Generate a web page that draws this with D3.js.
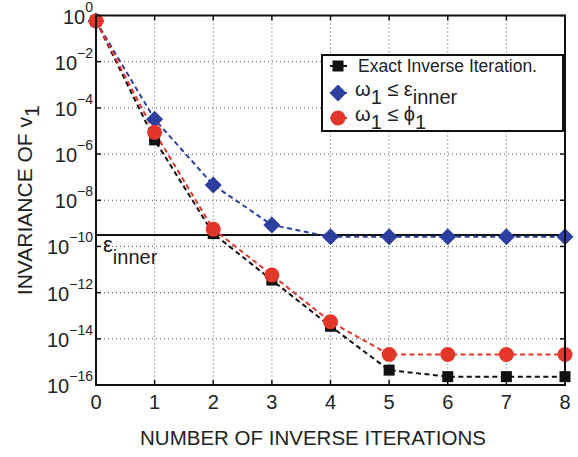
<!DOCTYPE html>
<html>
<head>
<meta charset="utf-8">
<script src="https://cdn.jsdelivr.net/npm/d3@7"></script>
<style>
  body { margin: 0; background: #fff; }
  svg { display: block; font-family: "Liberation Sans", Arial, sans-serif; }
</style>
</head>
<body>
<div id="chart"></div>
<script>
// iterations on the x axis
const iterations = [0, 1, 2, 3, 4, 5, 6, 7, 8];

// invariance values
const exactInverse = [0.59, 4.1e-6, 3.6e-10, 3.5e-12, 3.5e-14, 4.4e-16, 2.3e-16, 2.3e-16, 2.3e-16];
const omegaEps = [0.58, 3.2e-5, 4.6e-8, 8.5e-10, 2.6e-10, 2.6e-10, 2.6e-10, 2.6e-10, 2.6e-10];
const omegaPhi = [0.58, 8.7e-6, 5.6e-10, 5.8e-12, 5.5e-14, 2.1e-15, 2.1e-15, 2.1e-15, 2.1e-15];

const epsInner = 3.1e-10;

const xTicks = [0, 1, 2, 3, 4, 5, 6, 7, 8];
const yTickExp = [0, -2, -4, -6, -8, -10, -12, -14, -16];

const width = 578, height = 457;
const margin = { top: 15.5, right: 13, bottom: 72, left: 96 };

const svg = d3.select("#chart").append("svg")
  .attr("width", width)
  .attr("height", height);

const x = d3.scaleLinear().domain([0, 8]).range([margin.left, width - margin.right]);
const y = d3.scaleLog().domain([1e-16, 1]).range([height - margin.bottom, margin.top]);

const x0 = x.range()[0], x1 = x.range()[1];
const yTop = y.range()[1], yBot = y.range()[0];

// grid (dotted)
const grid = svg.append("g").attr("stroke", "#555").attr("stroke-width", 1).attr("stroke-dasharray", "1,3");
grid.selectAll(".gx").data(xTicks.slice(1, -1)).join("line")
  .attr("x1", d => x(d)).attr("x2", d => x(d))
  .attr("y1", yTop).attr("y2", yBot);
grid.selectAll(".gy").data(yTickExp.slice(1, -1)).join("line")
  .attr("x1", x0).attr("x2", x1)
  .attr("y1", d => y(Math.pow(10, d))).attr("y2", d => y(Math.pow(10, d)));

// epsilon inner line
svg.append("line")
  .attr("x1", x0).attr("x2", x1)
  .attr("y1", y(epsInner)).attr("y2", y(epsInner))
  .attr("stroke", "#111").attr("stroke-width", 2);

// ticks inside the box
const ticks = svg.append("g").attr("stroke", "#111").attr("stroke-width", 1.5);
xTicks.forEach(t => {
  ticks.append("line").attr("x1", x(t)).attr("x2", x(t)).attr("y1", yBot).attr("y2", yBot - 5);
  ticks.append("line").attr("x1", x(t)).attr("x2", x(t)).attr("y1", yTop).attr("y2", yTop + 5);
});
yTickExp.forEach(e => {
  const yy = y(Math.pow(10, e));
  ticks.append("line").attr("x1", x0).attr("x2", x0 + 5).attr("y1", yy).attr("y2", yy);
  ticks.append("line").attr("x1", x1).attr("x2", x1 - 5).attr("y1", yy).attr("y2", yy);
});

// tick labels
svg.append("g").selectAll("text").data(xTicks).join("text")
  .attr("x", d => x(d)).attr("y", yBot + 24)
  .attr("text-anchor", "middle")
  .attr("font-size", 20).attr("fill", "#222")
  .text(d => d);

const yl = svg.append("g").selectAll("text").data(yTickExp).join("text")
  .attr("y", d => y(Math.pow(10, d)) + 8)
  .attr("font-size", 20).attr("fill", "#222");
yl.append("tspan").text("10");
yl.append("tspan").attr("dy", -12).attr("font-size", 14)
  .text(d => d === 0 ? "0" : "\u2212" + Math.abs(d));
yl.each(function () {
  const w = this.getComputedTextLength();
  d3.select(this).attr("x", x0 - 3 - w);
});

// series
const series = [
  { name: "exact", data: exactInverse, color: "#111111", shape: "square" },
  { name: "eps", data: omegaEps, color: "#2d3f9e", shape: "diamond" },
  { name: "phi", data: omegaPhi, color: "#e2362a", shape: "circle" }
];

const line = d3.line().x((d, i) => x(iterations[i])).y(d => y(d));

function drawMarker(g, shape, cx, cy, color) {
  if (shape === "square") {
    g.append("rect").attr("x", cx - 5.5).attr("y", cy - 5.5).attr("width", 11).attr("height", 11).attr("fill", color);
  } else if (shape === "diamond") {
    g.append("path").attr("d", `M${cx},${cy - 8.5}L${cx + 8.5},${cy}L${cx},${cy + 8.5}L${cx - 8.5},${cy}Z`).attr("fill", color);
  } else {
    g.append("circle").attr("cx", cx).attr("cy", cy).attr("r", 7.5).attr("fill", color);
  }
}

series.forEach(s => {
  svg.append("path")
    .datum(s.data)
    .attr("d", line)
    .attr("fill", "none")
    .attr("stroke", s.color)
    .attr("stroke-width", 2)
    .attr("stroke-dasharray", "5,3.5");
});
series.forEach(s => {
  const g = svg.append("g");
  s.data.forEach((v, i) => drawMarker(g, s.shape, x(iterations[i]), y(v), s.color));
});

// box
svg.append("rect")
  .attr("x", x0).attr("y", yTop)
  .attr("width", x1 - x0).attr("height", yBot - yTop)
  .attr("fill", "none").attr("stroke", "#111").attr("stroke-width", 2);

// epsilon label
const el = svg.append("text").attr("x", x0 + 7).attr("y", y(epsInner) + 17)
  .attr("font-size", 20).attr("fill", "#222");
el.append("tspan").attr("font-size", 22).text("\u03b5");
el.append("tspan").attr("dy", 12).text("inner");

// legend
const lg = svg.append("g");
lg.append("rect")
  .attr("x", 322).attr("y", 55).attr("width", 241).attr("height", 76)
  .attr("fill", "#fff").attr("stroke", "#111").attr("stroke-width", 2);

const legendRows = [
  { s: series[0], y: 66 },
  { s: series[1], y: 93 },
  { s: series[2], y: 118 }
];
legendRows.forEach(r => {
  lg.append("line").attr("x1", 330).attr("x2", 347).attr("y1", r.y).attr("y2", r.y)
    .attr("stroke", r.s.color).attr("stroke-width", 2);
  drawMarker(lg, r.s.shape, 338, r.y, r.s.color);
});

lg.append("text").attr("x", 358).attr("y", 72).attr("font-size", 17.5).attr("fill", "#222")
  .text("Exact Inverse Iteration.");

const t2 = lg.append("text").attr("x", 355).attr("y", 96).attr("font-size", 20).attr("fill", "#222");
t2.append("tspan").text("\u03c9");
t2.append("tspan").attr("dy", 8).text("1");
t2.append("tspan").attr("dy", -8).text(" \u2264 \u03b5");
t2.append("tspan").attr("dy", 8).text("inner");

const t3 = lg.append("text").attr("x", 355).attr("y", 121).attr("font-size", 20).attr("fill", "#222");
t3.append("tspan").text("\u03c9");
t3.append("tspan").attr("dy", 8).text("1");
t3.append("tspan").attr("dy", -8).text(" \u2264 \u03d5");
t3.append("tspan").attr("dy", 8).text("1");

// axis titles
svg.append("text")
  .attr("x", 313).attr("y", 445)
  .attr("text-anchor", "middle")
  .attr("font-size", 20.5).attr("fill", "#222")
  .text("NUMBER OF INVERSE ITERATIONS");

const yt = svg.append("text")
  .attr("transform", `translate(32, ${(yTop + yBot) / 2}) rotate(-90)`)
  .attr("text-anchor", "middle")
  .attr("font-size", 21).attr("fill", "#222");
yt.append("tspan").text("INVARIANCE OF v");
yt.append("tspan").attr("dy", 7).text("1");
</script>
</body>
</html>
